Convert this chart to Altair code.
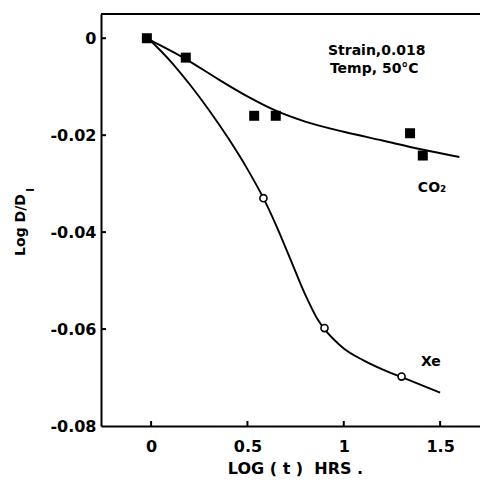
import altair as alt
import pandas as pd

# ---- data ----
co2_x = [-0.022, 0.18, 0.535, 0.647, 1.344, 1.41]
co2_y = [0.0, -0.0040, -0.0160, -0.0160, -0.0196, -0.0242]

xe_x = [0.583, 0.90, 1.30]
xe_y = [-0.0330, -0.0598, -0.0698]

co2_curve_x = [-0.01, 0.18, 0.35, 0.50, 0.65, 0.80, 1.00, 1.20, 1.40, 1.60]
co2_curve_y = [-0.0003, -0.0043, -0.0085, -0.0120, -0.0150, -0.0172, -0.0193, -0.0211,
               -0.0229, -0.0245]

xe_curve_x = [-0.01, 0.10, 0.20, 0.30, 0.40, 0.50, 0.583, 0.65, 0.72, 0.80,
              0.86, 0.90, 0.95, 1.00, 1.10, 1.20, 1.30, 1.40, 1.50]
xe_curve_y = [-0.0002, -0.0047, -0.0095, -0.0148, -0.0206, -0.0270, -0.0330, -0.0387,
              -0.0453, -0.0529, -0.0577, -0.0600, -0.0622, -0.0640, -0.0664, -0.0683,
              -0.0699, -0.0715, -0.0731]

x_ticks = [0, 0.5, 1, 1.5]
y_ticks = [0, -0.02, -0.04, -0.06]
y_tick_labels = [0, -0.02, -0.04, -0.06, -0.08]

note_lines = ["Strain,0.018", "Temp, 50\u00b0C"]
series_labels = ["CO\u2082", "Xe"]

# ---- layout ----
W, H = 379, 412
FONT = "DejaVu Sans"
xscale = alt.Scale(domain=[-0.26, 1.707], nice=False, zero=False)
yscale = alt.Scale(domain=[-0.08, 0.005], nice=False, zero=False)

xaxis = alt.Axis(values=x_ticks, format="~g", ticks=False, grid=False, title=None,
                 labelFont=FONT, labelFontSize=16, labelFontWeight="bold",
                 labelColor="black", labelPadding=12, domainColor="black",
                 domainWidth=2)
yaxis = alt.Axis(values=y_tick_labels, ticks=False, grid=False, title=None,
                 labelExpr="datum.value == 0 ? '0' : '-' + format(abs(datum.value), '.2f')",
                 labelFont=FONT, labelFontSize=16, labelFontWeight="bold",
                 labelColor="black", labelPadding=5, domainColor="black",
                 domainWidth=2)

curves = pd.DataFrame(
    [{"s": "CO2", "x": a, "y": b} for a, b in zip(co2_curve_x, co2_curve_y)]
    + [{"s": "Xe", "x": a, "y": b} for a, b in zip(xe_curve_x, xe_curve_y)]
)
sq = pd.DataFrame({"x": co2_x, "y": co2_y})
ci = pd.DataFrame({"x": xe_x, "y": xe_y})

lines = alt.Chart(curves).mark_line(interpolate="monotone", color="black",
                                    strokeWidth=1.9).encode(
    x=alt.X("x:Q", scale=xscale, axis=xaxis),
    y=alt.Y("y:Q", scale=yscale, axis=yaxis),
    detail="s:N",
)

squares = alt.Chart(sq).mark_point(shape="square", filled=True, size=100,
                                   color="black", opacity=1).encode(
    x=alt.X("x:Q", scale=xscale, axis=xaxis),
    y=alt.Y("y:Q", scale=yscale, axis=yaxis),
)

circles = alt.Chart(ci).mark_point(shape="circle", filled=True, fill="white",
                                   stroke="black", strokeWidth=1.6, size=50,
                                   opacity=1).encode(
    x=alt.X("x:Q", scale=xscale, axis=xaxis),
    y=alt.Y("y:Q", scale=yscale, axis=yaxis),
)

yt = alt.Chart(pd.DataFrame({"v": y_ticks})).mark_rule(color="black", strokeWidth=2).encode(
    y=alt.Y("v:Q", scale=yscale, axis=yaxis),
    x=alt.value(0), x2=alt.value(5),
)
xt = alt.Chart(pd.DataFrame({"v": x_ticks})).mark_rule(color="black", strokeWidth=2).encode(
    x=alt.X("v:Q", scale=xscale, axis=xaxis),
    y=alt.value(H), y2=alt.value(H - 5),
)
top = alt.Chart(pd.DataFrame({"a": [0]})).mark_rule(color="black", strokeWidth=2).encode(
    x=alt.value(0), x2=alt.value(W), y=alt.value(0),
)

notes = alt.Chart(pd.DataFrame({"t": note_lines, "x": [0.918, 0.928],
                                "y": [-0.0035, -0.0072]})).mark_text(
    align="left", baseline="alphabetic", font=FONT, fontSize=14,
    fontWeight="bold", color="black").encode(
    x=alt.X("x:Q", scale=xscale, axis=xaxis),
    y=alt.Y("y:Q", scale=yscale, axis=yaxis),
    text="t:N",
)

slabels = alt.Chart(pd.DataFrame({"t": series_labels, "x": [1.458, 1.452],
                                  "y": [-0.0309, -0.0668]})).mark_text(
    align="center", baseline="middle", font=FONT, fontSize=14,
    fontWeight="bold", color="black").encode(
    x=alt.X("x:Q", scale=xscale, axis=xaxis),
    y=alt.Y("y:Q", scale=yscale, axis=yaxis),
    text="t:N",
)

xtitle = alt.Chart(pd.DataFrame({"t": ["LOG ( t )\u00a0\u00a0HRS ."]})).mark_text(
    align="center", baseline="middle", font=FONT, fontSize=16,
    fontWeight="bold", color="black").encode(
    x=alt.value(194.5), y=alt.value(455), text="t:N")

ytitle = alt.Chart(pd.DataFrame({"t": ["Log D/D"]})).mark_text(
    align="center", baseline="middle", angle=270, font=FONT, fontSize=14,
    fontWeight="bold", color="black").encode(
    x=alt.value(-80), y=alt.value(211), text="t:N")

ysub = alt.Chart(pd.DataFrame({"t": ["I"]})).mark_text(
    align="center", baseline="middle", angle=270, font=FONT, fontSize=10,
    fontWeight="bold", color="black").encode(
    x=alt.value(-70), y=alt.value(176), text="t:N")

chart = alt.layer(lines, squares, circles, yt, xt, top, notes, slabels,
                  xtitle, ytitle, ysub).properties(
    width=W, height=H,
    autosize=alt.AutoSizeParams(type="none"),
    padding={"left": 101, "top": 14, "right": 0, "bottom": 57},
    background="white",
).configure_view(stroke=None)

chart.save("out.html", embed_options={"renderer": "svg", "actions": False})
